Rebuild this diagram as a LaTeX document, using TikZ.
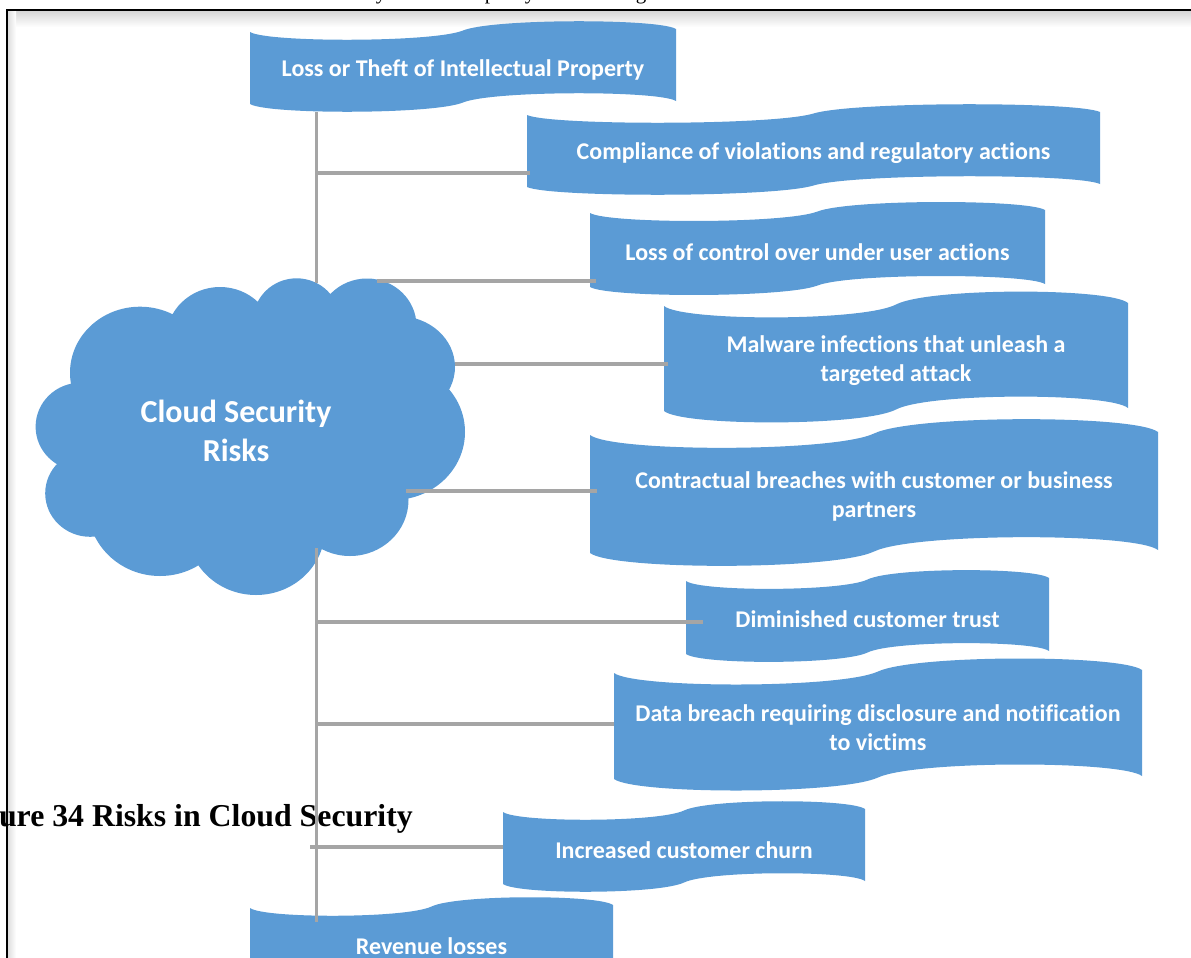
\documentclass[tikz,border=0pt]{standalone}
\usepackage{fontspec}
\setmainfont{Carlito}[Ligatures=NoCommon]
\newfontfamily\capfont{Liberation Serif}
\definecolor{boxblue}{HTML}{5B9BD5}
\definecolor{conngray}{HTML}{A5A5A5}
\tikzset{
  boxtext/.style={text=white, font=\fontsize{24}{29}\selectfont\bfseries, align=center, inner sep=0pt},
  cloudtext/.style={text=white, font=\fontsize{32}{39}\selectfont\bfseries, align=center, inner sep=0pt},
  conn/.style={draw=conngray, line width=3.6pt},
  frameline/.style={draw=black, line width=2.2pt},
  captext/.style={font=\capfont\fontsize{31.8}{36}\selectfont\bfseries, inner sep=0pt},
  fragtext/.style={font=\capfont\fontsize{21}{24}\selectfont, inner sep=0pt, anchor=base}
}
% #1 name, #2 left, #3 right, #4 top, #5 bottom, #6 text
\newcommand\wavebox[6]{%
  \pgfmathsetmacro\wbw{#3-#2}%
  \pgfmathsetmacro\wbm{(#2+#3)/2}%
  \pgfmathsetmacro\wbd{0.147*(#5-#4)}%
  \pgfmathsetmacro\wbLa{#2+0.04*\wbw}%
  \pgfmathsetmacro\wbLb{\wbm-0.07*\wbw}%
  \pgfmathsetmacro\wbRa{\wbm+0.07*\wbw}%
  \pgfmathsetmacro\wbRb{#3-0.04*\wbw}%
  \fill[boxblue] (#2,#4)
     .. controls ({\wbLa},{#4+\wbd}) and ({\wbLb},{#4+\wbd}) .. ({\wbm},{#4-1.5})
     .. controls ({\wbRa},{#4-\wbd-3}) and ({\wbRb},{#4-\wbd-3}) .. (#3,{#4-3})
     -- (#3,{#5-3})
     .. controls ({\wbRb},{#5-\wbd-3}) and ({\wbRa},{#5-\wbd-3}) .. ({\wbm},{#5-1.5})
     .. controls ({\wbLb},{#5+\wbd}) and ({\wbLa},{#5+\wbd}) .. (#2,#5) -- cycle;
  \node[boxtext, minimum width={(#3-#2)*1pt}, minimum height={(#5-#4)*1pt}] (#1) at ({\wbm},{(#4+#5)/2+2}) {#6};
}
\begin{document}
\begin{tikzpicture}[x=1pt,y=-1pt]
\useasboundingbox (0,0) rectangle (1191,958);

% page fragments
\node[fragtext] (f1) at (381,-0.5) {y};
\node[fragtext] (f2) at (490,-0.5) {p};
\node[fragtext] (f3) at (530,-0.5) {y};
\node[fragtext] (f4) at (641,-0.5) {g};

% frame with soft shadow
\shade[top color=black!16, bottom color=white] (7,11) rectangle (1191,27);
\shade[left color=black!14, right color=white] (7,11) rectangle (16,958);
\draw[frameline] (7,958) -- (7,10) -- (1191,10);

% caption
\node[captext, anchor=base east] (cap) at (413,826) {Figure 34 Risks in Cloud Security};

% cloud
\fill[boxblue]
  (140,372.7) ellipse [x radius=70pt, y radius=66pt]
  (220,339) ellipse [x radius=54pt, y radius=52pt]
  (296.6,320.9) ellipse [x radius=43.5pt, y radius=42.6pt]
  (367,326) ellipse [x radius=49.5pt, y radius=47.5pt]
  (398,367) ellipse [x radius=57pt, y radius=51pt]
  (393,432) ellipse [x radius=72pt, y radius=68pt]
  (350,500) ellipse [x radius=58.5pt, y radius=56pt]
  (256,529) ellipse [x radius=69pt, y radius=66pt]
  (160,506) ellipse [x radius=72.4pt, y radius=70pt]
  (90.2,493.3) ellipse [x radius=45pt, y radius=43.5pt]
  (80.6,426.7) ellipse [x radius=45pt, y radius=44pt];
\fill[boxblue] (140,372.7) -- (220,339) -- (296.6,320.9) -- (367,326) -- (398,367)
  -- (393,432) -- (350,500) -- (256,529) -- (160,506) -- (90.2,493.3) -- (80.6,426.7) -- cycle;
\node[cloudtext] (cloud) at (236,431) {Cloud Security\\Risks};

% boxes
\wavebox{b1}{250}{676}{32}{104}{Loss or Theft of Intellectual Property}
\wavebox{b2}{527}{1100}{115}{187}{Compliance of violations and regulatory actions}
\wavebox{b3}{590}{1045}{213}{287}{Loss of control over under user actions}
\wavebox{b4}{664}{1128}{306}{411}{Malware infections that unleash a\\targeted attack}
\wavebox{b5}{590}{1158}{435}{553}{Contractual breaches with customer or business\\partners}
\wavebox{b6}{686}{1049}{581}{654}{Diminished customer trust}
\wavebox{b7}{614}{1142}{673}{779}{Data breach requiring disclosure and notification\\to victims}
\wavebox{b8}{503}{865}{812}{884}{Increased customer churn}
\wavebox{b9}{250}{613}{908}{980}{Revenue losses}

% connectors
\coordinate (s1) at (316.5,112);
\coordinate (s2) at (316.5,283);
\coordinate (s3) at (316.5,548);
\coordinate (s4) at (316.5,922);
\coordinate (j2) at (316.5,173);
\coordinate (j3) at (377,281);
\coordinate (j4) at (455,364);
\coordinate (j5) at (406,491);
\coordinate (j6) at (316.5,622);
\coordinate (j7) at (316.5,724);
\coordinate (j8) at (310,847);
\draw[conn] (s1) -- (s2);
\draw[conn] (s3) -- (s4);
\draw[conn, shorten >=-3pt] (j2) -- (j2 -| b2.west);
\draw[conn, shorten >=-6pt] (j3) -- (j3 -| b3.west);
\draw[conn, shorten >=-4pt] (j4) -- (j4 -| b4.west);
\draw[conn, shorten >=-7pt] (j5) -- (j5 -| b5.west);
\draw[conn, shorten >=-17pt] (j6) -- (j6 -| b6.west);
\draw[conn] (j7) -- (j7 -| b7.west);
\draw[conn] (j8) -- (j8 -| b8.west);
\end{tikzpicture}
\end{document}
